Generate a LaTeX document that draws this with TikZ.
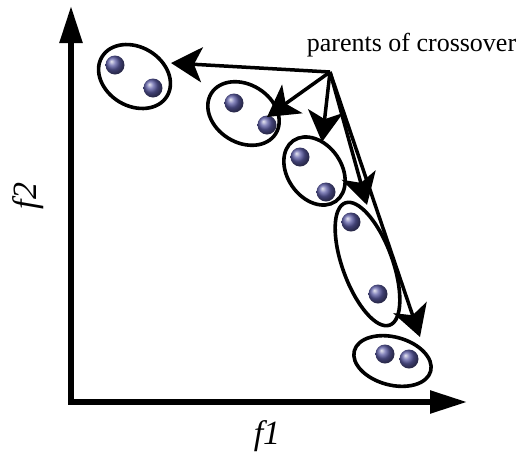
\documentclass[tikz,border=0pt]{standalone}
\usepackage{fontspec}
\setmainfont{Liberation Serif}
\newfontfamily\axisfont{Liberation Serif Italic}
\usetikzlibrary{shapes.geometric, arrows.meta}
\definecolor{BallBlue}{RGB}{92, 92, 165}

\begin{document}
\begin{tikzpicture}[x=1pt, y=-1pt,
    group/.style={draw, ellipse, line width=3.6pt, inner sep=0pt},
    ball/.style={circle, inner sep=0pt, minimum size=19pt, shading=ball, ball color=BallBlue},
    axis/.style={line width=5.5pt, line join=miter, {Triangle[length=37pt, width=22pt]}-{Triangle[length=37pt, width=22pt]}},
    parent/.style={line width=3.5pt, -{Stealth[length=31pt, width=35pt, inset=8pt]}}]
    \useasboundingbox (0,0) rectangle (523,456);

    \coordinate (ytip) at (71,6);
    \coordinate (origin) at (71,402);
    \coordinate (xtip) at (467,402);
    \draw[axis] (ytip) -- (origin) -- (xtip);
    \node[rotate=90] (fy) at (28,196) {\fontsize{34}{34}\selectfont\axisfont f2};
    \node (fx) at (267,436) {\fontsize{34}{34}\selectfont\axisfont f1};

    \node[group, minimum width=76pt, minimum height=59pt, rotate=-31] (grpA) at (134.5,76.5) {};
    \node[group, minimum width=76pt, minimum height=58pt, rotate=-32] (grpB) at (243.5,113.5) {};
    \node[group, minimum width=74pt, minimum height=54pt, rotate=-55] (grpC) at (314.5,171) {};
    \node[group, minimum width=130pt, minimum height=50pt, rotate=-70] (grpD) at (367.5,264) {};
    \node[group, minimum width=79pt, minimum height=48pt, rotate=-15] (grpE) at (392.5,361) {};

    \node[ball] (a1) at (115,65) {};
    \node[ball] (a2) at (153,88) {};
    \node[ball] (b1) at (234,103) {};
    \node[ball] (b2) at (267,125) {};
    \node[ball] (c1) at (300,157) {};
    \node[ball] (c2) at (326,192) {};
    \node[ball] (d1) at (351,222) {};
    \node[ball] (d2) at (378,294) {};
    \node[ball] (e1) at (385,354) {};
    \node[ball] (e2) at (409,359) {};

    \node (parents) at (411.5,45) {\fontsize{26}{28}\selectfont parents of crossover};
    \coordinate (apex) at (330,72);
    \coordinate (tipA) at (171,63);
    \coordinate (tipB) at (267,117);
    \coordinate (tipC) at (322,142);
    \coordinate (tipD) at (367,205);
    \coordinate (tipE) at (420,337);

    \draw[parent] (apex) -- (tipA);
    \draw[parent] (apex) -- (tipB);
    \draw[parent] (apex) -- (tipC);
    \draw[parent] (apex) -- (tipD);
    \draw[parent] (apex) -- (tipE);
\end{tikzpicture}
\end{document}
